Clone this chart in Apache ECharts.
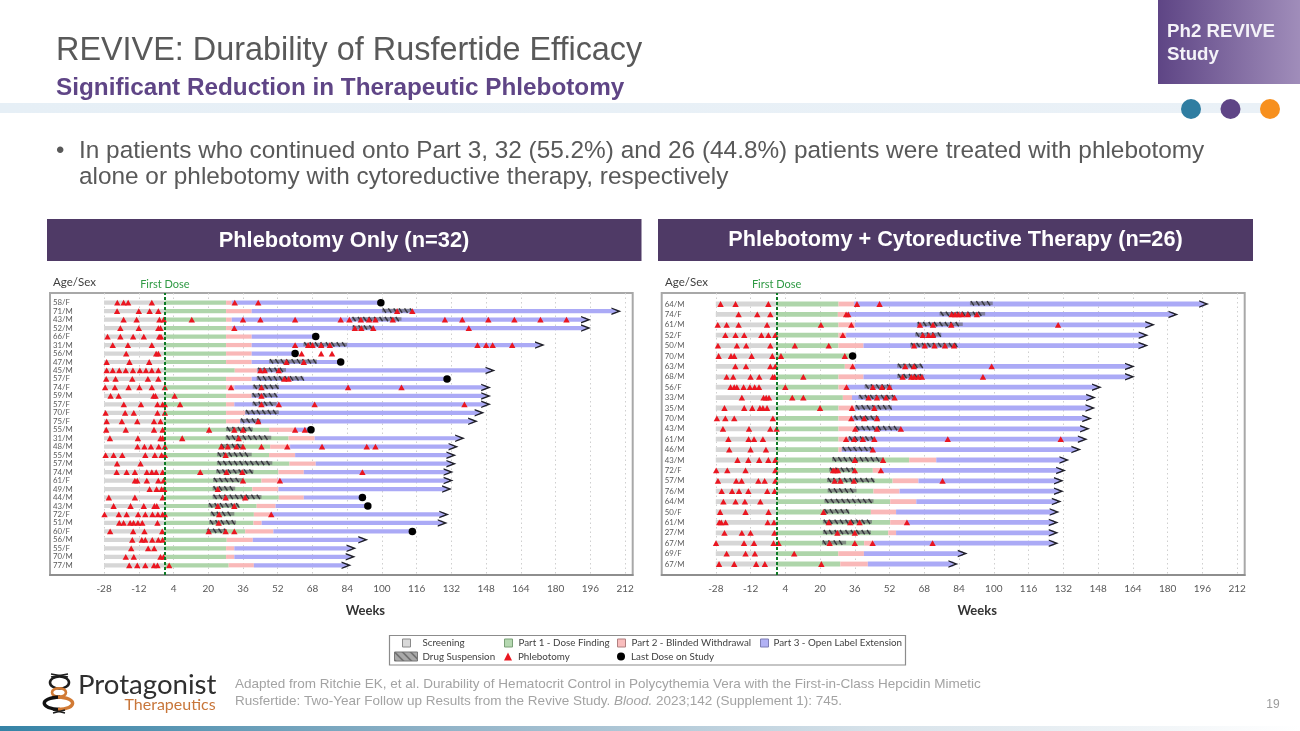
<!DOCTYPE html>
<html><head><meta charset="utf-8">
<style>html,body{margin:0;padding:0;background:#fff}#main{width:1300px;height:731px;filter:blur(.45px)}</style>
<script src="https://cdn.jsdelivr.net/npm/echarts@6/dist/echarts.min.js"></script>
</head><body><div id="main"></div>
<script>
const weekTicks=[-28,-12,4,20,36,52,68,84,100,116,132,148,164,180,196,212];
const screeningStart=-28, firstDose=0;

const leftLabels=['58/F','71/M','43/M','52/M','66/F','31/M','56/M','47/M','45/M','57/F','74/F','59/M','57/F','70/F','75/F','55/M','31/M','48/M','55/M','57/M','74/M','61/F','49/M','44/M','43/M','72/F','51/M','60/F','56/M','55/F','70/M','77/M'];
const leftPart1End=[28.2,28.2,28.2,28.2,28.2,28.2,28.2,28.2,32.2,28.2,28.2,28.2,28.2,28.2,28.2,48,57,48.5,48,57.4,52.3,44.5,40.3,52.5,42.3,41,40.8,37,28.5,28.2,28.2,29.4];
const leftPart2End=[30.8,40,30.8,31,40,40,40,40,42.6,40,32,40,32,37,34.7,60,69,57.7,60,69.5,64,52.3,52.3,64,51,48.5,44.6,50,40.5,32,32,41];
const leftEnd=[99.5,208,194,194,69.5,172.8,60,81,150,130,148,148,148,145,142,67.3,136,133,132,132,130.7,130.7,130,91,93.5,128.7,128,114,91.4,86,85.6,83.7];
const leftLastDose=[99.5,null,null,null,69.5,null,60,81,null,130,null,null,null,null,null,67.3,null,null,null,null,null,null,null,91,93.5,null,null,114,null,null,null,null];
const leftSuspStart=[null,100,86,86.3,null,63.8,null,48,42.6,42.3,40.5,40,40.3,37,34.7,28.2,28,25.5,24,24,23.6,22.2,22,22,20,21,20.4,19.3,null,null,null,null];
const leftSuspEnd=[null,114,109,96,null,84,null,70,55.8,63.8,52.5,51.5,51.5,52.5,44,40.5,49,36,40,49.5,40.8,36,32.4,44.5,34,32,32.8,28.5,null,null,null,null];
const leftPhlebotomy=[
[-21.9,-19,-16.9,-6,32.2,43],
[-22,-12,-7,-3,107,114],
[-19,-13,-2.5,-0.5,12.4,36,44,60,81,85,90.3,94,97,105,129,137,149,161,173,185],
[-20.5,-12,-3,-2,32,87.5,90.5,96,140],
[-26.4,-20.5,-14.6,-9.7,-2.6,-1.8],
[-24,-17,-6,60,66,68,72,76,144,148,151,160],
[-17.8,-4,-3,63,72,77],
[-26.8,-16.3,-7.2,56,64],
[-26.8,-24,-21,-18,-14.7,-11.5,-8.7,-6,-3,44,46,52.5],
[-27,-22.7,-15,-7.8,-3,55,57],
[-27.5,-23,-16.7,-11.7,-6,0,30.5,44.5,84.4,109],
[-25,-21.3,-5.2,-4.3,4.5,44.5],
[-18.9,-11,-3.4,-1,0,7,44.5,52.5,69,138],
[-27.3,-18.3,-14.3,-3.4,0],
[-26.8,-19.8,-12.7,-5,-2,43],
[-27,-18,-5,-1,20.4,32,36,60,64.5],
[-25.3,-12.4,-2,-1,8,34],
[-12.6,-9.4,-6.4,-2.8,0,26,29,33,36,44.5,56.4,72.4,93,97],
[-27.3,-23.6,-19.6,-9,-4.6,-1.5,0,28],
[-22,-11.2],
[-22.2,-17.6,-13.8,-8.3,-6,-4,-1,16.3,28.4,35.7,91],
[-13.8,-12.7,-8.3,-3,-0.6,36,53],
[-7,-3.8,-1.5,-0.3,24.4],
[-25.8,-13.8,-1,28,37],
[-23.6,-15.8,-9.7,-4.8,-3.7,24.4,32],
[-27.8,-21.2,-17.6,-12.3,-9,-5.7,-3.2,-1,0,25,49],
[-21,-19,-16,-14.4,-12.4,-10.4,-3.4,24.8],
[-25.2,-14.6,-9.4,-1.2,20.2,28,32],
[-15,-10.6,-9,-5.8,-3,-1],
[-15.5,-7.7,-4.9],
[-18,-14.3,-2,-0.6],
[-16.4,-12.7,-9,-5,-3.4,2]];

const rightLabels=['64/M','74/F','61/M','52/F','50/M','70/M','63/M','68/M','56/F','33/M','35/M','70/M','43/M','61/M','46/M','43/M','72/F','57/M','76/M','64/M','50/F','61/M','27/M','67/M','69/F','67/M'];
const rightPart1End=[28.5,28.2,28.5,28.5,28.5,34.5,31.4,28.5,28.5,30.5,28.5,28.5,28.5,28.5,28.5,61,44.3,53.4,44.6,52.3,43.4,52.3,51.4,40.3,28.4,29.3];
const rightPart2End=[35.7,32.4,36,32,40,34.5,36,40,32.4,34.7,36,34.7,36,33,30,73.5,48.5,65.3,56.6,64.3,55,60,55,44.6,40.2,42];
const rightEnd=[196.8,182.7,172,169,168.9,34.5,162.7,162.7,147.5,144.8,144.5,143,142,141,138,132.5,131,130,130,129,128,127.6,127.6,127.6,85.7,81.4];
const rightLastDose=[null,null,null,null,null,35,null,null,null,null,null,null,null,null,null,null,null,null,null,null,null,null,null,null,null,null];
const rightSuspStart=[89,75,64.6,63.8,61.5,null,55.5,55.5,40.5,37.7,36.2,35.4,36.2,33,30,25.5,24.2,23.2,23.5,22,21.6,21.3,21.3,20.9,null,null];
const rightSuspEnd=[99.5,96,85.7,75.8,83,null,67,67.6,53,54.6,53,47,57,45.4,44.6,49.2,36.2,45,36.8,44.6,33.4,43.9,43.4,32,null,null];
const rightPhlebotomy=[
[-25.8,-18.9,-3.8,37,47.4],
[-17.5,-8.9,-2.9,32,33,80.6,82.2,83.7,85.3,88,92.2],
[-27.1,-23,-17.5,-4.4,20.4,34.4,66,72,80.4,129.6],
[-23.6,-18.9,-14.9,-7,-3.8,-0.6,30.5,67.3,70,72],
[-27,-18.3,-14,-2.9,8.4,24,63.3,68.2,72.7,77.5,81.7],
[-26.7,-21,-19.5,-11.5,-2,2,31.4],
[-19,-14.1,-2.9,-0.6,35,59.2,63.2,99],
[-23,-20,-12,-8,-1.8,-0.9,12.3,58,62,63.3,65.2,66.9,95],
[-21.2,-19.5,-18.3,-15.2,-12.3,-10.1,-8.1,4,32.2,44.3,48.5,52],
[-16,-6,-4.8,-3.5,7.2,12.3,42.3,46.2,50.3,54.3],
[-24,-14.9,-11.2,-7.7,-6.3,-4.4,20,34.7,45],
[-27.5,-23.6,-19.5,-1.7,34.4,40.3,46.2],
[-24.7,-12.7,-2.9,0,36.2,46.2,57.2],
[-22.2,-12.9,-10.4,-6.3,32,35.7,39.7,45,78.8,130.8],
[-21.8,-12,-4.9,44.3],
[-18,-13,-8,-3.8,-0.6,36,49],
[-27.8,-22.7,-14.3,-0.6,26,27,28.2,36,48],
[-27,-18.6,-16.1,-8.4,-5.5,-0.6,26.7,29.4,35.6,76.4],
[-25.3,-20.5,-17.3,-13,-4.3,-0.9],
[-24.5,-18.9,-14.6,-7.5],
[-26,-14.3,-3.7,21.6],
[-26.4,-25.5,-23.5,-4.1,-1.2,24,33.9,38.2,60],
[-24,-16,-12,-1,28,36],
[-27.9,-15,-10.4,-1.4,0.9,24.4,36,44.2,71.8],
[-23,-14.3,-10,8.1],
[-26.5,-19.5,-9.4,-5.4,20.6]];

const phaseColors={Screening:'#d6d6d6',part1:'#aed5aa',part2:'#f9b8b8',part3:'#abaaf6'};
const phaseNames=['Screening','Part 1 - Dose Finding','Part 2 - Blinded Withdrawal','Part 3 - Open Label Extension'];
const suspName='Drug Suspension', phlebName='Phlebotomy', lastName='Last Dose on Study';
const FONT='Lato, "Open Sans", sans-serif', ARIAL='"Liberation Sans", Arial, sans-serif';
const X_MIN=-52.9, X_MAX=215.5;

const hatchCanvas=document.createElement('canvas');hatchCanvas.width=8;hatchCanvas.height=8;
(function(){const c=hatchCanvas.getContext('2d');c.fillStyle='#a9a9a9';c.fillRect(0,0,8,8);c.strokeStyle='#555';c.lineWidth=1.2;
[[-2,-2,10,10],[-6,2,6,14],[2,-6,14,6]].forEach(p=>{c.beginPath();c.moveTo(p[0],p[1]);c.lineTo(p[2],p[3]);c.stroke();});})();

function barRender(h){return function(params,api){
  const a=api.coord([api.value(1),api.value(0)]),b=api.coord([api.value(2),api.value(0)]);
  return {type:'rect',shape:{x:a[0],y:a[1]-h/2,width:b[0]-a[0],height:h},style:{fill:api.visual('color')}};
};}
function suspRender(params,api){
  const a=api.coord([api.value(1),api.value(0)]),b=api.coord([api.value(2),api.value(0)]);
  const y=a[1]-0.6, kids=[{type:'rect',shape:{x:a[0],y:y-1.8,width:b[0]-a[0],height:3.6},style:{fill:'rgba(105,105,110,.65)'}}];
  for(let x=a[0]+1;x<b[0]-2;x+=5.4){kids.push({type:'line',shape:{x1:x,y1:y-2.2,x2:x+3,y2:y+2.2},style:{stroke:'#35353c',lineWidth:1.4}});}
  return {type:'group',children:kids};
}
const arrowPath='path://M0,0L12,5L0,10L0,8.2L7,5L0,1.8Z';

let grids=[],xAxes=[],yAxes=[],series=[];
function panel(o){
  const g=grids.length;
  const frame={left:o.left,width:o.width,top:293,height:282};
  grids.push(Object.assign({show:true,borderColor:'#a8a8a8',borderWidth:2,backgroundColor:'transparent'},frame));
  grids.push({left:o.left,width:o.width,top:o.rowTop,height:o.rowStep*o.labels.length});
  xAxes.push({gridIndex:g,type:'value',min:X_MIN,max:X_MAX,name:'Weeks',nameLocation:'middle',nameGap:29,
    nameTextStyle:{fontFamily:FONT,fontWeight:'bold',fontSize:13,color:'#333',padding:[0,0,0,48]},
    axisLine:{onZero:false,lineStyle:{color:'#8e8e8e',width:2}},axisTick:{show:false,customValues:weekTicks},
    axisLabel:{customValues:weekTicks,fontFamily:FONT,fontSize:10,color:'#595959',margin:8.5},
    splitLine:{show:true,lineStyle:{color:'#cfcfcf',type:[1.5,3],width:1}}});
  yAxes.push({gridIndex:g,type:'value',min:0,max:1,show:false,splitLine:{show:false}});
  xAxes.push({gridIndex:g+1,type:'value',min:X_MIN,max:X_MAX,show:false,splitLine:{show:false}});
  yAxes.push({gridIndex:g+1,type:'category',inverse:true,data:o.labels,
    axisLine:{show:false},axisTick:{show:true,alignWithLabel:true,length:3,lineStyle:{color:'#777'}},
    axisLabel:{inside:true,margin:3,align:'left',fontFamily:FONT,fontSize:7.8,color:'#595959',padding:[0,0,3,0],interval:0},
    splitLine:{show:false}});
  series.push({type:'scatter',xAxisIndex:g,yAxisIndex:g,data:[],silent:true,
    markLine:{silent:true,symbol:'none',animation:false,lineStyle:{color:'#0e7a26',type:[3,2],width:2},
      label:{show:true,position:'end',formatter:'First Dose',color:'#2f9a44',fontFamily:FONT,fontSize:11,distance:3},
      data:[{xAxis:firstDose}]}});
  const idx=o.labels.map((_,i)=>i);
  const ax={xAxisIndex:g+1,yAxisIndex:g+1};
  const starts=[idx.map(()=>screeningStart),idx.map(()=>firstDose),o.p1,o.p2];
  const ends=[idx.map(()=>firstDose),o.p1,o.p2,o.end];
  const cols=[phaseColors.Screening,phaseColors.part1,phaseColors.part2,phaseColors.part3];
  phaseNames.forEach((nm,k)=>{
    series.push(Object.assign({type:'custom',name:nm,renderItem:barRender(o.barH),itemStyle:{color:cols[k]},encode:{x:[1,2],y:0},z:2,silent:true,
      data:idx.map(i=>[i,starts[k][i],ends[k][i]]).filter(d=>d[2]>d[1])},ax));
  });
  series.push(Object.assign({type:'custom',name:suspName,renderItem:suspRender,itemStyle:{color:'#8a8a8a'},encode:{x:[1,2],y:0},z:3,silent:true,
    data:idx.filter(i=>o.ss[i]!==null).map(i=>[i,o.ss[i],o.se[i]])},ax));
  const tri=[];o.ph.forEach((l,i)=>l.forEach(v=>tri.push([v,i])));
  series.push(Object.assign({type:'scatter',name:phlebName,symbol:'triangle',symbolSize:[6.4,5.8],itemStyle:{color:'#ea1620',opacity:1},z:4,silent:true,data:tri},ax));
  series.push(Object.assign({type:'scatter',name:'Ongoing',symbol:arrowPath,symbolSize:[10,7.5],itemStyle:{color:'#1f1f2a',opacity:1},z:4,silent:true,
    data:idx.filter(i=>o.last[i]===null).map(i=>[o.end[i],i])},ax));
  series.push(Object.assign({type:'scatter',name:lastName,symbol:'circle',symbolSize:7.5,itemStyle:{color:'#000',opacity:1},z:5,silent:true,
    data:idx.filter(i=>o.last[i]!==null).map(i=>[o.last[i],i])},ax));
}
panel({left:50,width:582.7,rowTop:298.47,rowStep:8.47,barH:4.2,labels:leftLabels,p1:leftPart1End,p2:leftPart2End,end:leftEnd,last:leftLastDose,ss:leftSuspStart,se:leftSuspEnd,ph:leftPhlebotomy});
panel({left:661.7,width:583,rowTop:298.8,rowStep:10.4,barH:4.8,labels:rightLabels,p1:rightPart1End,p2:rightPart2End,end:rightEnd,last:rightLastDose,ss:rightSuspStart,se:rightSuspEnd,ph:rightPhlebotomy});

function leg(name,icon,left,w,h,textLeft,top,style){
  return {show:true,orient:'horizontal',left:left,top:top,selectedMode:false,padding:0,itemWidth:w,itemHeight:h,
    textStyle:{fontFamily:FONT,fontSize:9.8,color:'#3f3f3f',padding:[0,0,0,textLeft-left-w-5]},
    data:[{name:name,icon:icon,itemStyle:style}]};
}
const legTop1=638,legTop2=651.5;
const legends=[
  leg(phaseNames[0],'rect',402,8,8,422,legTop1,{color:'#d9d9d9',borderColor:'#8a8a8a',borderWidth:1}),
  leg(phaseNames[1],'rect',504,8,8,518,legTop1,{color:'#b5d8b1',borderColor:'#7aa077',borderWidth:1}),
  leg(phaseNames[2],'rect',617,8,8,631,legTop1,{color:'#f9bdbd',borderColor:'#b08080',borderWidth:1}),
  leg(phaseNames[3],'rect',760,8,8,773,legTop1,{color:'#b2b2f5',borderColor:'#7f7fb5',borderWidth:1}),
  leg(suspName,'rect',394,23,9,422,legTop2,{color:{image:hatchCanvas,repeat:'repeat'},borderColor:'#777',borderWidth:1}),
  leg(phlebName,'triangle',504,8,8,518,legTop2,{color:'#ea1620'}),
  leg(lastName,'circle',617,8,8,631,legTop2,{color:'#000'})
];

function T(x,y,text,font,fill,align,extra){return {type:'text',x:x,y:y,silent:true,z:10,style:Object.assign({text:text,font:font,fill:fill,align:align||'left',verticalAlign:'middle'},extra||{})};}
function R(x,y,w,h,fill,extra){return Object.assign({type:'rect',silent:true,z:1,shape:{x:0,y:0,width:w,height:h},x:x,y:y,style:{fill:fill}},extra||{});}
function E(cx,cy,rx,ry,stroke,lw){return {type:'ellipse',silent:true,z:5,shape:{cx:cx,cy:cy,rx:rx,ry:ry},style:{fill:'none',stroke:stroke,lineWidth:lw}};}
function grad(stops){return {type:'linear',x:0,y:0,x2:1,y2:0,colorStops:stops.map((c,i)=>({offset:i/(stops.length-1),color:c}))};}
const graphic=[
  R(0,103,1272,10,grad(['#e6eff6','#eaf1f7'])),
  R(1158,0,142,84,grad(['#5e4585','#a08dba'])),
  T(1167,31.5,'Ph2 REVIVE','bold 18.7px '+ARIAL,'#f4f2f8'),
  T(1167,54.5,'Study','bold 18.7px '+ARIAL,'#f4f2f8'),
  {type:'circle',silent:true,z:3,shape:{cx:1191,cy:109,r:10},style:{fill:'#2f7da1'}},
  {type:'circle',silent:true,z:3,shape:{cx:1230.5,cy:109,r:10},style:{fill:'#5f4586'}},
  {type:'circle',silent:true,z:3,shape:{cx:1270,cy:109,r:10},style:{fill:'#f7901e'}},
  T(56,51.5,'REVIVE: Durability of Rusfertide Efficacy','32.4px '+ARIAL,'#595959'),
  T(56,88,'Significant Reduction in Therapeutic Phlebotomy','bold 24.3px '+ARIAL,'#5f4586'),
  T(56,151,'•','24px '+ARIAL,'#595959'),
  T(79,151,'In patients who continued onto Part 3, 32 (55.2%) and 26 (44.8%) patients were treated with phlebotomy','24.37px '+ARIAL,'#595959'),
  T(79,177.5,'alone or phlebotomy with cytoreductive therapy, respectively','24.37px '+ARIAL,'#595959'),
  R(47,219,594.5,42,'#4f3a66'),
  R(658,219,595,42,'#4f3a66'),
  T(344,240.5,'Phlebotomy Only (n=32)','bold 21.85px '+ARIAL,'#fff','center'),
  T(955.5,240.5,'Phlebotomy + Cytoreductive Therapy (n=26)','bold 21.7px '+ARIAL,'#fff','center'),
  T(53,282.5,'Age/Sex',"11.5px "+FONT,'#404040'),
  T(665,282.5,'Age/Sex',"11.5px "+FONT,'#404040'),
  {type:'rect',silent:true,z:1,shape:{x:389.5,y:635.5,width:516,height:29.5},style:{fill:'#fff',stroke:'#8c8c8c',lineWidth:1.2}},
  T(235,684,'Adapted from Ritchie EK, et al. Durability of Hematocrit Control in Polycythemia Vera with the First-in-Class Hepcidin Mimetic','13.5px '+ARIAL,'#a3a3a3'),
  T(235,701,'Rusfertide: Two-Year Follow up Results from the Revive Study. {i|Blood.} 2023;142 (Supplement 1): 745.','13.5px '+ARIAL,'#a3a3a3','left',{rich:{i:{fontStyle:'italic',fontSize:13.5,fontFamily:ARIAL,fill:'#a3a3a3'}}}),
  T(1273,705,'19','12px '+ARIAL,'#9c9c9c','center'),
  R(0,726,1300,5,grad(['#3583a6','#8fb2c7','#d5e1e9','#ffffff'])),
  T(78,685.5,'Protagonist','27.6px Lato, "Open Sans", sans-serif','#2f2f2f'),
  T(124.5,705,'Therapeutics','16px Lato, "Open Sans", sans-serif','#c8763a','left'),
  E(59.5,682.5,9.5,6,'#1d1d1d',2.6),
  E(59,692.5,7,4.3,'#d17a34',2.6),
  {type:'bezierCurve',silent:true,z:5,shape:{x1:60,y1:697,cpx1:38,cpy1:698,cpx2:40,cpy2:709,x2:60,y2:709.5},style:{fill:'none',stroke:'#111',lineWidth:3.4}},
  {type:'bezierCurve',silent:true,z:5,shape:{x1:58,y1:697,cpx1:78,cpy1:698,cpx2:77,cpy2:709,x2:58,y2:709.5},style:{fill:'none',stroke:'#d17a34',lineWidth:3.4}},
  {type:'line',silent:true,z:5,shape:{x1:51,y1:674,x2:68,y2:677},style:{stroke:'#1d1d1d',lineWidth:1.6}},
  {type:'line',silent:true,z:5,shape:{x1:68,y1:674,x2:51,y2:677},style:{stroke:'#1d1d1d',lineWidth:1.6}},
  {type:'line',silent:true,z:5,shape:{x1:53,y1:710,x2:65,y2:713},style:{stroke:'#1d1d1d',lineWidth:1.6}},
  {type:'line',silent:true,z:5,shape:{x1:65,y1:710,x2:53,y2:713},style:{stroke:'#1d1d1d',lineWidth:1.6}}
];

const chart=echarts.init(document.getElementById('main'),null,{renderer:'canvas',width:1300,height:731});
chart.setOption({animation:false,backgroundColor:'#fff',grid:grids,xAxis:xAxes,yAxis:yAxes,series:series,legend:legends,graphic:{elements:graphic},tooltip:{show:false}});
</script></body></html>
